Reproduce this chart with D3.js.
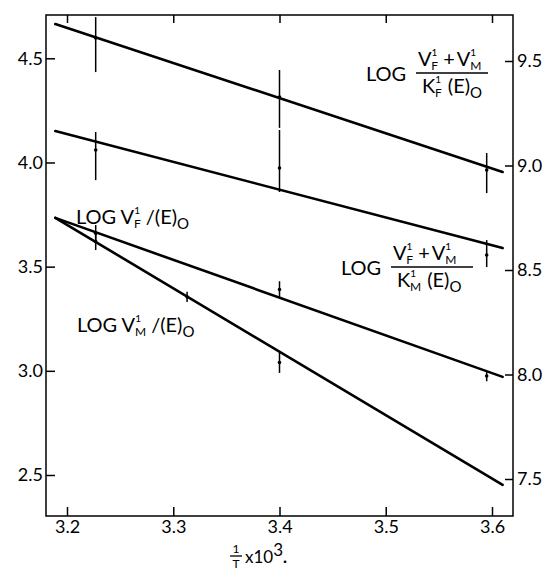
<!DOCTYPE html>
<html>
<head>
<meta charset="utf-8">
<script src="https://cdn.jsdelivr.net/npm/d3@7"></script>
<style>
  html, body { margin: 0; padding: 0; background: #fff; }
  svg { display: block; }
  text { font-family: Lato, "DejaVu Sans", sans-serif; fill: #000; }
</style>
</head>
<body>
<div id="chart"></div>
<script>
// ---- data ----
const xTicks = [3.2, 3.3, 3.4, 3.5, 3.6];
const leftTicks = [2.5, 3.0, 3.5, 4.0, 4.5];
const rightTicks = [7.5, 8.0, 8.5, 9.0, 9.5];

// fitted straight lines: x from/to and value from/to
const fitX = [3.189, 3.610];
const lineA = [9.677, 8.969];   // right axis
const lineB = [9.165, 8.605];   // right axis
const lineC = [3.734, 2.971];   // left axis
const lineD = [3.734, 2.453];   // left axis

// measured points with error bars
const ptsAx = [3.227, 3.400, 3.595];
const ptsAy = [9.61, 9.328, 8.978];
const ptsAlo = [9.447, 9.18, 8.868];
const ptsAhi = [9.71, 9.457, 9.06];

const ptsBx = [3.227, 3.400, 3.595];
const ptsBy = [9.074, 8.988, 8.572];
const ptsBlo = [8.93, 8.873, 8.514];
const ptsBhi = [9.16, 9.17, 8.643];

const ptsCx = [3.227, 3.400, 3.595];
const ptsCy = [3.66, 3.39, 2.975];
const ptsClo = [3.62, 3.35, 2.95];
const ptsChi = [3.70, 3.43, 3.00];

const ptsDx = [3.227, 3.313, 3.400];
const ptsDy = [3.62, 3.355, 3.04];
const ptsDlo = [3.58, 3.33, 2.99];
const ptsDhi = [3.66, 3.38, 3.09];

// ---- layout ----
const W = 548, H = 570;
const frame = {left: 46, right: 513, top: 15, bottom: 516};

const svg = d3.select("#chart").append("svg").attr("width", W).attr("height", H);

const x = d3.scaleLinear().domain([3.2, 3.6]).range([67, 492]);
const yL = d3.scaleLinear().domain([2.5, 4.5]).range([475, 58.3]);
const yR = d3.scaleLinear().domain([7.5, 9.5]).range([479, 61]);

// frame
svg.append("rect")
  .attr("x", frame.left).attr("y", frame.top)
  .attr("width", frame.right - frame.left).attr("height", frame.bottom - frame.top)
  .attr("fill", "none").attr("stroke", "#000").attr("stroke-width", 1.5);

const fmt = d3.format(".1f");
function styleAxis(g) {
  g.select(".domain").remove();
  g.selectAll(".tick line").attr("stroke", "#000").attr("stroke-width", 1.5);
  g.selectAll(".tick text").attr("font-size", 18).attr("fill", "#000")
    .style("font-family", "Lato, 'DejaVu Sans', sans-serif");
}

svg.append("g").attr("transform", `translate(${frame.left},0)`)
  .call(d3.axisLeft(yL).tickValues(leftTicks).tickFormat(fmt).tickSize(-9).tickPadding(3))
  .call(styleAxis);

svg.append("g").attr("transform", `translate(${frame.right},0)`)
  .call(d3.axisRight(yR).tickValues(rightTicks).tickFormat(fmt).tickSize(-8).tickPadding(4))
  .call(styleAxis);

svg.append("g").attr("transform", `translate(0,${frame.bottom})`)
  .call(d3.axisBottom(x).tickValues(xTicks).tickFormat(fmt).tickSize(-9).tickPadding(4))
  .call(styleAxis);

svg.append("g").attr("transform", `translate(0,${frame.top})`)
  .call(d3.axisTop(x).tickValues(xTicks).tickFormat("").tickSize(-8))
  .call(styleAxis);

// fitted lines
function drawLine(vals, ys) {
  svg.append("line")
    .attr("x1", x(fitX[0])).attr("y1", ys(vals[0]))
    .attr("x2", x(fitX[1])).attr("y2", ys(vals[1]))
    .attr("stroke", "#000").attr("stroke-width", 2.6).attr("stroke-linecap", "round");
}
drawLine(lineA, yR);
drawLine(lineB, yR);
drawLine(lineC, yL);
drawLine(lineD, yL);

// points with error bars
function drawPts(xs, ys, lo, hi, sc) {
  const g = svg.append("g");
  xs.forEach((xv, i) => {
    g.append("line")
      .attr("x1", x(xv)).attr("x2", x(xv))
      .attr("y1", sc(lo[i])).attr("y2", sc(hi[i]))
      .attr("stroke", "#000").attr("stroke-width", 1.5);
    g.append("circle").attr("cx", x(xv)).attr("cy", sc(ys[i])).attr("r", 1.8).attr("fill", "#000");
  });
}
drawPts(ptsAx, ptsAy, ptsAlo, ptsAhi, yR);
drawPts(ptsBx, ptsBy, ptsBlo, ptsBhi, yR);
drawPts(ptsCx, ptsCy, ptsClo, ptsChi, yL);
drawPts(ptsDx, ptsDy, ptsDlo, ptsDhi, yL);

// ---- labels ----
const FS = 20;
const SUP_DY = -10, SUB_DY = 14;
// V (or K) with superscript 1 stacked over a subscript letter
function addSym(t, base, sub) {
  t.append("tspan").text(base);
  t.append("tspan").attr("font-size", 10).attr("dy", SUP_DY).text("1");
  t.append("tspan").attr("font-size", 12).attr("dy", SUB_DY).attr("dx", -6).text(sub);
}

function fracLabel(lx, ly, kSub, barW) {
  const g = svg.append("g");
  g.append("text").attr("x", lx).attr("y", ly + 8).attr("font-size", FS).text("LOG");
  const fx = lx + 50;
  // numerator
  const num = g.append("text").attr("x", fx + 2).attr("y", ly - 7).attr("font-size", FS);
  addSym(num, "V", "F");
  num.append("tspan").attr("dy", -(SUP_DY + SUB_DY)).attr("dx", 5).text("+");
  num.append("tspan").attr("dx", 2).text("V");
  num.append("tspan").attr("font-size", 10).attr("dy", SUP_DY).text("1");
  num.append("tspan").attr("font-size", 12).attr("dy", SUB_DY).attr("dx", -6).text("M");
  // bar
  g.append("line").attr("x1", fx).attr("x2", fx + barW).attr("y1", ly).attr("y2", ly)
    .attr("stroke", "#000").attr("stroke-width", 1.5);
  // denominator
  const den = g.append("text").attr("x", fx + 6).attr("y", ly + 20).attr("font-size", FS);
  addSym(den, "K", kSub);
  den.append("tspan").attr("dy", -(SUP_DY + SUB_DY)).attr("dx", 6).text("(E)");
  den.append("tspan").attr("font-size", 15).attr("dy", 5).text("O");
}
fracLabel(366, 73, "F", 72);
fracLabel(341, 267, "M", 82);

function simpleLabel(lx, ly, sub) {
  const t = svg.append("text").attr("x", lx).attr("y", ly).attr("font-size", FS);
  t.append("tspan").text("LOG V");
  t.append("tspan").attr("font-size", 10).attr("dy", SUP_DY).text("1");
  t.append("tspan").attr("font-size", 12).attr("dy", SUB_DY).attr("dx", -6).text(sub);
  t.append("tspan").attr("dy", -(SUP_DY + SUB_DY)).attr("dx", 5).text("/(E)");
  t.append("tspan").attr("font-size", 15).attr("dy", 5).text("O");
}
simpleLabel(76, 224, "F");
simpleLabel(77, 332, "M");

// x-axis title: 1/T x 10^3.
const tg = svg.append("g");
const tx = 236;
tg.append("text").attr("x", tx).attr("y", 553).attr("font-size", 12).attr("text-anchor", "middle").text("1");
tg.append("line").attr("x1", tx - 6).attr("x2", tx + 6).attr("y1", 556).attr("y2", 556)
  .attr("stroke", "#000").attr("stroke-width", 1.3);
tg.append("text").attr("x", tx).attr("y", 568).attr("font-size", 12).attr("text-anchor", "middle").text("T");
const xt = tg.append("text").attr("x", tx + 9).attr("y", 563).attr("font-size", 17);
xt.append("tspan").text("x10");
xt.append("tspan").attr("font-size", 17).attr("dy", -7).text("3");
xt.append("tspan").attr("dy", 7).attr("font-weight", "bold").text(".");
</script>
</body>
</html>
